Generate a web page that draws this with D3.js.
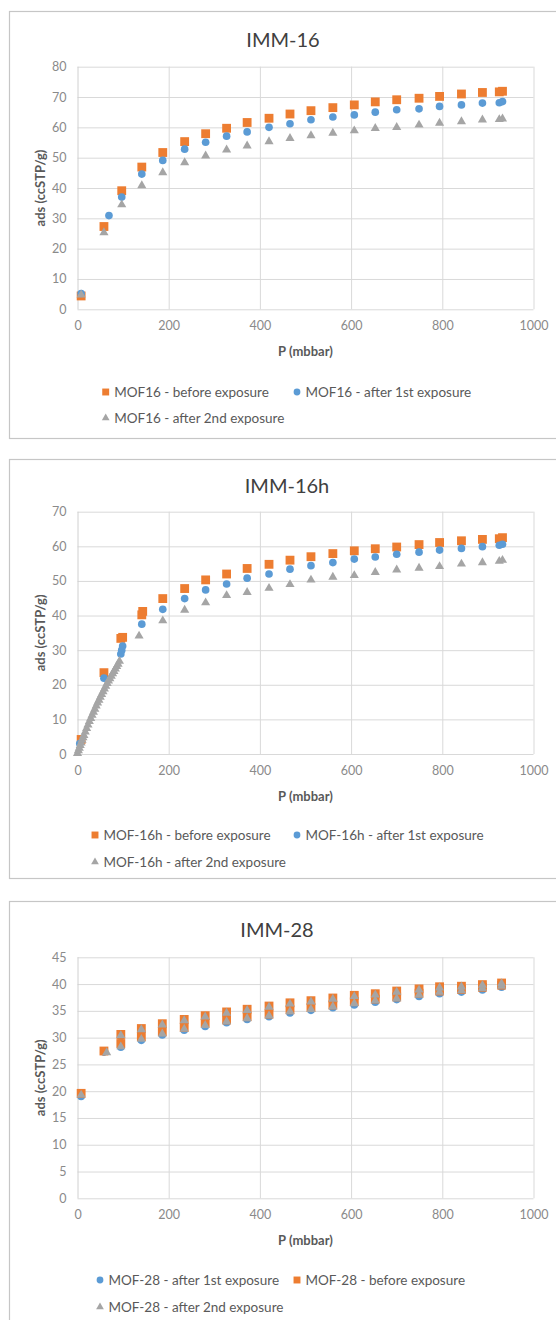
<!DOCTYPE html>
<html><head><meta charset="utf-8">
<script src="https://cdn.jsdelivr.net/npm/d3@7"></script>
<style>body{margin:0;background:#fff}svg{display:block;font-family:Lato,'Open Sans',sans-serif}</style>
</head><body><svg id="c" width="556" height="1320"></svg>
<script>
// ---------- shared ----------
const xTicks = [0, 200, 400, 600, 800, 1000];
const yTicks16 = [0, 10, 20, 30, 40, 50, 60, 70, 80];
const yTicks16h = [0, 10, 20, 30, 40, 50, 60, 70];
const yTicks28 = [0, 5, 10, 15, 20, 25, 30, 35, 40, 45];

// ---------- IMM-16 ----------
const p16Before = [8, 58, 97, 141, 187, 235, 281, 327, 372, 420, 466, 512, 560, 607, 653, 700, 749, 794, 842, 888, 925, 932];
const ads16Before = [4.4, 27.3, 39.1, 46.9, 51.7, 55.3, 57.9, 59.7, 61.6, 63.0, 64.4, 65.5, 66.5, 67.4, 68.4, 69.1, 69.6, 70.2, 71.0, 71.5, 71.7, 71.9];
const p16First = [8, 69, 97, 141, 187, 235, 281, 327, 372, 420, 466, 512, 560, 607, 653, 700, 749, 794, 842, 888, 925, 932];
const ads16First = [5.2, 30.9, 37.0, 44.6, 49.1, 52.8, 55.1, 57.1, 58.5, 60.0, 61.2, 62.5, 63.4, 64.1, 65.0, 65.8, 66.1, 66.9, 67.4, 68.0, 68.1, 68.5];
const p16Second = [8, 58, 97, 141, 187, 235, 281, 327, 372, 420, 466, 512, 560, 607, 653, 700, 749, 794, 842, 888, 925, 932];
const ads16Second = [4.8, 25.3, 34.5, 40.8, 45.1, 48.4, 50.6, 52.6, 53.9, 55.3, 56.4, 57.3, 58.1, 58.9, 59.7, 60.0, 60.8, 61.4, 61.9, 62.5, 62.6, 62.8];

// ---------- IMM-16h ----------
const p16hBefore = [8, 58, 95, 99, 141, 143, 187, 235, 281, 327, 372, 420, 466, 512, 560, 607, 653, 700, 749, 794, 842, 888, 925, 932];
const ads16hBefore = [4.2, 23.5, 33.4, 33.7, 40.2, 41.2, 44.9, 47.8, 50.3, 52.0, 53.6, 54.8, 56.0, 57.0, 57.9, 58.7, 59.3, 59.8, 60.5, 61.1, 61.6, 62.0, 62.2, 62.5];
const p16hFirst = [5, 58, 95, 97, 99, 141, 187, 235, 281, 327, 372, 420, 466, 512, 560, 607, 653, 700, 749, 794, 842, 888, 925, 932];
const ads16hFirst = [3.0, 21.9, 28.9, 30.0, 31.2, 37.5, 41.8, 44.9, 47.4, 49.1, 50.8, 52.0, 53.4, 54.4, 55.3, 56.3, 56.9, 57.7, 58.3, 58.9, 59.4, 59.9, 60.3, 60.6];
const p16hSecond = [0, 2, 4, 6, 8, 10, 12, 14, 17, 20, 23, 26, 29, 32, 35, 38, 41, 44, 47, 50, 53, 56, 59, 62, 65, 68, 71, 74, 77, 80, 83, 86, 89, 92,
  135, 187, 235, 281, 327, 372, 420, 466, 512, 560, 607, 653, 700, 749, 794, 842, 888, 925, 932];
const ads16hSecond = [0.2, 1.0, 1.7, 2.5, 3.2, 4.0, 4.7, 5.4, 6.4, 7.4, 8.4, 9.4, 10.3, 11.2, 12.1, 13.0, 13.9, 14.8, 15.6, 16.4, 17.2, 18.0, 18.8, 19.6, 20.4, 21.1, 21.8, 22.5, 23.2, 23.9, 24.6, 25.3, 26.0, 26.8,
  34.1, 38.5, 41.6, 43.7, 45.8, 46.7, 47.9, 49.0, 50.3, 51.1, 51.6, 52.5, 53.2, 53.7, 54.2, 54.9, 55.3, 55.7, 56.0];

// ---------- IMM-28 (lower and upper branch at each pressure) ----------
const p28Low = [8, 58, 95, 140, 186, 234, 280, 327, 372, 420, 466, 512, 560, 607, 653, 700, 749, 794, 842, 888, 930];
const p28High = [95, 140, 186, 234, 280, 327, 372, 420, 466, 512, 560, 607, 653, 700, 749, 794, 842, 888, 930];
const ads28FirstLow = [19.0, 27.3, 28.2, 29.5, 30.5, 31.4, 32.1, 32.8, 33.4, 33.9, 34.6, 35.1, 35.6, 36.1, 36.6, 37.1, 37.7, 38.2, 38.5, 38.9, 39.4];
const ads28FirstHigh = [30.2, 31.3, 32.2, 33.0, 33.7, 34.4, 34.9, 35.5, 36.1, 36.5, 37.0, 37.5, 37.8, 38.3, 38.7, 39.1, 39.3, 39.6, 39.9];
const ads28BeforeLow = [19.6, 27.5, 28.9, 30.2, 31.1, 31.9, 32.7, 33.3, 33.9, 34.4, 35.2, 35.6, 36.1, 36.7, 37.2, 37.6, 38.3, 38.7, 39.0, 39.4, 39.8];
const ads28BeforeHigh = [30.6, 31.7, 32.6, 33.4, 34.1, 34.8, 35.3, 35.9, 36.5, 36.9, 37.4, 37.9, 38.2, 38.7, 39.1, 39.5, 39.6, 39.9, 40.2];
const p28SecondLow = [8, 64, 95, 140, 186, 234, 280, 327, 372, 420, 466, 512, 560, 607, 653, 700, 749, 794, 842, 888, 930];
const ads28SecondLow = [19.3, 27.2, 28.3, 29.7, 30.7, 31.6, 32.3, 33.0, 33.6, 34.1, 34.9, 35.3, 35.8, 36.4, 36.9, 37.3, 38.0, 38.5, 38.8, 39.2, 39.6];
const ads28SecondHigh = [30.4, 31.5, 32.4, 33.2, 33.9, 34.6, 35.1, 35.7, 36.3, 36.7, 37.2, 37.7, 38.0, 38.5, 38.9, 39.3, 39.5, 39.8, 40.1];

const ORANGE = '#ED7D31', BLUE = '#5B9BD5', GRAY = '#A5A5A5';
const zip = (ps, vs) => ps.map((p, i) => ({p, v: vs[i]}));

const panels = [
  { title: 'IMM-16', titleX: 283, titleY: 47, boxTop: 11, boxBottom: 438,
    plotTop: 66.7, plotBottom: 309.3, yMax: 80, yTicks: yTicks16, legendY: [392, 418], legendX: [105.7, 297],
    series: [
      {label: 'MOF16 - before exposure', sym: 'square', color: ORANGE, pts: zip(p16Before, ads16Before)},
      {label: 'MOF16 - after 1st exposure', sym: 'circle', color: BLUE, pts: zip(p16First, ads16First)},
      {label: 'MOF16 - after 2nd exposure', sym: 'triangle', color: GRAY, pts: zip(p16Second, ads16Second)} ] },
  { title: 'IMM-16h', titleX: 287, titleY: 493, boxTop: 459, boxBottom: 878,
    plotTop: 511.7, plotBottom: 754, yMax: 70, yTicks: yTicks16h, legendY: [835, 862], legendX: [95, 297],
    series: [
      {label: 'MOF-16h - before exposure', sym: 'square', color: ORANGE, pts: zip(p16hBefore, ads16hBefore)},
      {label: 'MOF-16h - after 1st exposure', sym: 'circle', color: BLUE, pts: zip(p16hFirst, ads16hFirst)},
      {label: 'MOF-16h - after 2nd exposure', sym: 'triangle', color: GRAY, pts: zip(p16hSecond, ads16hSecond)} ] },
  { title: 'IMM-28', titleX: 277, titleY: 937, boxTop: 901, boxBottom: 1340,
    plotTop: 957.3, plotBottom: 1198.3, yMax: 45, yTicks: yTicks28, legendY: [1280, 1307], legendX: [100, 297],
    series: [
      {label: 'MOF-28 - after 1st exposure', sym: 'circle', color: BLUE, pts: zip(p28Low, ads28FirstLow).concat(zip(p28High, ads28FirstHigh))},
      {label: 'MOF-28 - before exposure', sym: 'square', color: ORANGE, pts: zip(p28Low, ads28BeforeLow).concat(zip(p28High, ads28BeforeHigh))},
      {label: 'MOF-28 - after 2nd exposure', sym: 'triangle', color: GRAY, pts: zip(p28SecondLow, ads28SecondLow).concat(zip(p28High, ads28SecondHigh))} ] }
];

const svg = d3.select('#c');
const X0 = 77.5, X1 = 533.5;
const symType = {square: d3.symbolSquare, circle: d3.symbolCircle, triangle: d3.symbolTriangle};
const symSize = {square: 78, circle: 46, triangle: 36};
const legSize = {square: 48, circle: 36, triangle: 26};

panels.forEach(cfg => {
  const g = svg.append('g');
  g.append('rect').attr('x', 9.5).attr('y', cfg.boxTop + 0.5).attr('width', 600).attr('height', cfg.boxBottom - cfg.boxTop)
    .attr('fill', '#fff').attr('stroke', '#C6C6C6').attr('stroke-width', 1.2);

  const x = d3.scaleLinear().domain([0, 1000]).range([X0, X1]);
  const y = d3.scaleLinear().domain([0, cfg.yMax]).range([cfg.plotBottom, cfg.plotTop]);

  const ya = g.append('g').attr('transform', `translate(${X0},0)`)
    .call(d3.axisLeft(y).tickValues(cfg.yTicks).tickSize(-(X1 - X0)).tickPadding(11).tickFormat(d3.format('d')));
  const xa = g.append('g').attr('transform', `translate(0,${cfg.plotBottom})`)
    .call(d3.axisBottom(x).tickValues(xTicks).tickSize(-(cfg.plotBottom - cfg.plotTop)).tickPadding(12).tickFormat(d3.format('d')));
  [ya, xa].forEach(a => {
    a.select('.domain').remove();
    a.selectAll('line').attr('stroke', '#D9D9D9').attr('stroke-width', 1);
    a.selectAll('text').attr('fill', '#8A8A8A').style('font-size', '12.5px').style('font-family', 'Lato, sans-serif');
  });
  xa.selectAll('.tick').filter(d => d === 0).select('line').attr('stroke', '#D0D0D0');

  g.append('text').attr('x', cfg.titleX).attr('y', cfg.titleY).attr('text-anchor', 'middle')
    .attr('fill', '#404040').style('font-size', '20px').text(cfg.title);
  g.append('text').attr('transform', `translate(40,${(cfg.plotTop + cfg.plotBottom) / 2}) rotate(-90)`)
    .attr('text-anchor', 'middle').attr('dy', '0.35em').attr('fill', '#595959')
    .style('font-size', '13px').style('font-weight', 'bold').text('ads (ccSTP/g)');
  g.append('text').attr('x', 305.5).attr('y', cfg.plotBottom + 42).attr('dy', '0.35em').attr('text-anchor', 'middle')
    .attr('fill', '#595959').style('font-size', '13px').style('font-weight', 'bold').text('P (mbbar)');

  cfg.series.forEach(s => {
    g.append('g').selectAll('path').data(s.pts).join('path')
      .attr('transform', d => `translate(${x(d.p)},${y(d.v)})`)
      .attr('d', d3.symbol(symType[s.sym], symSize[s.sym]))
      .attr('fill', s.color);
  });

  const legPos = [[cfg.legendX[0], cfg.legendY[0]], [cfg.legendX[1], cfg.legendY[0]], [cfg.legendX[0], cfg.legendY[1]]];
  cfg.series.forEach((s, i) => {
    const [lx, ly] = legPos[i];
    g.append('path').attr('transform', `translate(${lx},${ly})`).attr('d', d3.symbol(symType[s.sym], legSize[s.sym])).attr('fill', s.color);
    g.append('text').attr('x', lx + 8.5).attr('y', ly).attr('dy', '0.35em').attr('fill', '#595959')
      .style('font-size', '13.5px').text(s.label);
  });
});
</script></body></html>
